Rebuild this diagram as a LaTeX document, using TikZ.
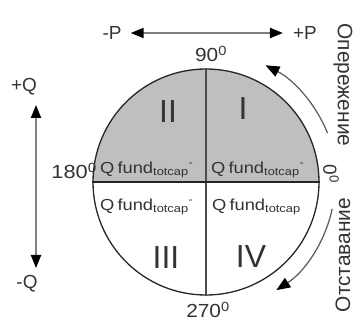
\documentclass[tikz,border=0pt]{standalone}
\usepackage{fontspec}
\setmainfont{Liberation Sans}
\usetikzlibrary{arrows.meta}
\newcommand{\fs}[1]{\fontsize{#1}{#1}\selectfont}
\newcommand{\xs}[2]{\scalebox{#1}[1]{#2}}
\begin{document}
\begin{tikzpicture}[x=1bp,y=1bp,
  txt/.style={text=black!80, inner sep=0pt},
  lbl/.style={txt, font=\fs{19}},
  deg/.style={txt, font=\fs{19}},
  roman/.style={txt, font=\fs{32}},
  qf/.style={txt, font=\fs{16}, anchor=base west},
  rus/.style={txt, font=\fs{21}},
  dbl/.style={draw=black!50, line width=2bp, {Triangle[length=13bp,width=10bp,color=black]}-{Triangle[length=13bp,width=10bp,color=black]}},
  curv/.style={draw=black!65, line width=1.2bp, -{Triangle[length=14bp,width=11bp,color=black]}},
]
\useasboundingbox (0,0) rectangle (354,321);
\coordinate (c) at (206,139);
% upper half shading
\fill[black!25] (c) ++(113,0) arc[start angle=0,end angle=180,radius=113] -- cycle;
\node[circle, draw=black!85, line width=1.3bp, minimum size=226bp, inner sep=0pt] (C) at (c) {};
\draw[black!70, line width=1.5bp] (C.north) -- (C.south);
\draw[black!85, line width=2bp] (C.west) -- (C.east);

% roman numerals
\node[roman] (n2) at (168,209) {II};
\node[roman] (n1) at (243,212) {I};
\node[roman] (n3) at (166,63) {III};
\node[roman] (n4) at (251,64) {IV};

% Q fund labels
\node[qf] (q1) at (100,148) {\xs{1.15}{Q\,fund\textsubscript{totcap}\textsuperscript{-}}};
\node[qf] (q2) at (211,148) {\xs{1.15}{Q\,fund\textsubscript{totcap}\textsuperscript{-}}};
\node[qf] (q3) at (100,111) {\xs{1.15}{Q\,fund\textsubscript{totcap}\textsuperscript{-}}};
\node[qf] (q4) at (212,111) {\xs{1.15}{Q\,fund\textsubscript{totcap}}};

% degree labels
\node[deg] (d90) at (211,267) {\xs{1.1}{90\textsuperscript{0}}};
\node[deg] (d270) at (208,11) {\xs{1.1}{270\textsuperscript{0}}};
\node[deg, anchor=east] (d180) at (97,150) {\xs{1.15}{180\textsuperscript{0}}};
\node[deg, rotate=-90] (d0) at (331,147) {0\textsuperscript{0}};

% P arrow
\node[lbl] (mP) at (112,288) {-P};
\node[lbl] (pP) at (305,288) {+P};
\draw[dbl] ([xshift=9bp]mP.east) -- ([xshift=-10bp]pP.west);

% Q arrow
\node[lbl] (pQ) at (24,234) {+Q};
\node[lbl] (mQ) at (27,37) {-Q};
\coordinate (qa) at (36,216);
\coordinate (qb) at (36,53);
\draw[dbl] (qa) -- (qb);

% curved arrows
\draw[curv] (c) ++(22:131) arc[start angle=22,end angle=63,radius=131];
\draw[curv] (c) ++(-12:129) arc[start angle=-12,end angle=-57,radius=129];

% Russian labels
\node[rus, rotate=-90] (lead) at (343,236) {Опережение};
\node[rus, rotate=90] (lag) at (343,66) {Отставание};
\end{tikzpicture}
\end{document}
